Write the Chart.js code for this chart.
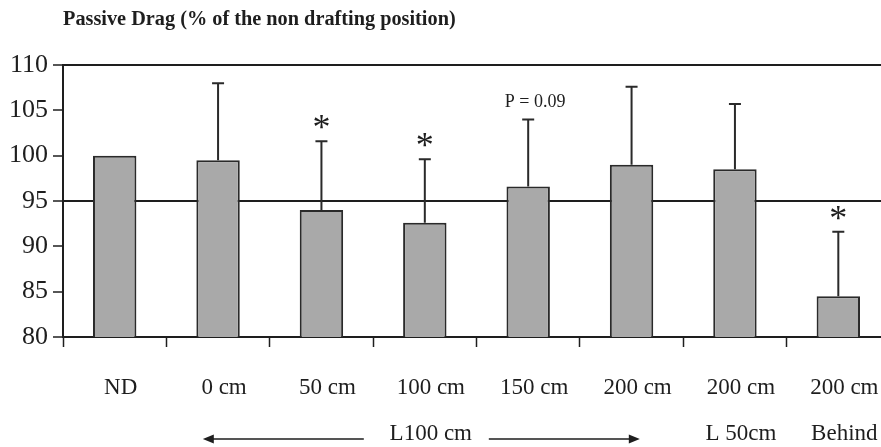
<!DOCTYPE html>
<html>
<head>
<meta charset="utf-8">
<script src="https://cdn.jsdelivr.net/npm/chart.js@4"></script>
<style>
    html, body { margin: 0; padding: 0; background: #fff; overflow: hidden; }
    #wrap { width: 891px; height: 447px; position: relative; }
</style>
</head>
<body>
<div id="wrap"><canvas id="dragChart"></canvas></div>
<script>
// Data
const categories = ["ND", "0 cm", "50 cm", "100 cm", "150 cm", "200 cm", "200 cm", "200 cm"];
const subLabels = ["", "", "", "L100 cm", "", "", "L 50cm", "Behind"];
const passiveDrag = [100, 99.5, 94.0, 92.6, 96.6, 99.0, 98.5, 84.5];
const sdUpper = [null, 8.5, 7.6, 7.0, 7.4, 8.6, 7.2, 7.1];
const marks = ["", "", "*", "*", "P = 0.09", "", "", "*"];
const yTicks = [80, 85, 90, 95, 100, 105, 110];
const refLines = [95, 110];
const titleText = "Passive Drag (% of the non drafting position)";

const serif = "'Liberation Serif', 'Times New Roman', serif";
const ink = "#1e1e1e";

// error bars, significance marks, title and the L100 arrows
const extras = {
    id: "extras",
    afterDatasetsDraw(chart) {
        const ctx = chart.ctx;
        const meta = chart.getDatasetMeta(0);
        const y = chart.scales.y;
        ctx.save();
        ctx.strokeStyle = "#2a2a2a";
        ctx.lineWidth = 2;
        meta.data.forEach((bar, i) => {
            if (sdUpper[i] == null) return;
            const top = y.getPixelForValue(passiveDrag[i] + sdUpper[i]);
            const base = y.getPixelForValue(passiveDrag[i]);
            ctx.beginPath();
            ctx.moveTo(bar.x, base);
            ctx.lineTo(bar.x, top);
            ctx.moveTo(bar.x - 6, top);
            ctx.lineTo(bar.x + 6, top);
            ctx.stroke();

            const m = marks[i];
            if (!m) return;
            ctx.fillStyle = ink;
            ctx.textAlign = "center";
            if (m === "*") {
                ctx.font = "36px " + serif;
                ctx.textBaseline = "alphabetic";
                const tm = ctx.measureText("*");
                const mid = (tm.actualBoundingBoxAscent - tm.actualBoundingBoxDescent) / 2;
                ctx.fillText("*", bar.x, top - 19 + mid);
            } else {
                ctx.font = "18px " + serif;
                ctx.textBaseline = "alphabetic";
                ctx.fillText(m, bar.x + 7, top - 12);
            }
        });
        ctx.restore();
    },
    afterDraw(chart) {
        const ctx = chart.ctx;
        const x = chart.scales.x;
        ctx.save();
        // title
        ctx.fillStyle = ink;
        ctx.font = "bold 20.3px " + serif;
        ctx.textAlign = "left";
        ctx.textBaseline = "alphabetic";
        ctx.fillText(titleText, chart.chartArea.left, 25);

        // arrows around "L100 cm"
        const c = x.getPixelForValue(3) + 6;
        const ay = 439;
        ctx.strokeStyle = ink;
        ctx.fillStyle = ink;
        ctx.lineWidth = 1.6;
        ctx.beginPath();
        ctx.moveTo(c - 67, ay);
        ctx.lineTo(c - 219, ay);
        ctx.moveTo(c + 58, ay);
        ctx.lineTo(c + 200, ay);
        ctx.stroke();
        ctx.beginPath();
        ctx.moveTo(c - 228, ay);
        ctx.lineTo(c - 217, ay - 4.5);
        ctx.lineTo(c - 217, ay + 4.5);
        ctx.closePath();
        ctx.moveTo(c + 209, ay);
        ctx.lineTo(c + 198, ay - 4.5);
        ctx.lineTo(c + 198, ay + 4.5);
        ctx.closePath();
        ctx.fill();
        ctx.restore();
    }
};

const ctx = document.getElementById("dragChart").getContext("2d");
const dragChart = new Chart(ctx, {
    type: "bar",
    data: {
        labels: categories.map((c, i) => [c, subLabels[i]]),
        datasets: [{
            label: "Passive Drag",
            data: passiveDrag,
            backgroundColor: "#a9a9a9",
            borderColor: "#2a2a2a",
            borderWidth: 2,
            borderSkipped: false,
            barPercentage: 0.42,
            categoryPercentage: 1
        }]
    },
    options: {
        responsive: true,
        maintainAspectRatio: false,
        animation: false,
        layout: { padding: { top: 65, right: 1, left: 0, bottom: 0 } },
        plugins: {
            legend: { display: false },
            title: { display: false },
            tooltip: { enabled: false }
        },
        scales: {
            x: {
                grid: {
                    offset: true,
                    drawOnChartArea: false,
                    drawTicks: true,
                    tickLength: 10,
                    tickColor: ink,
                    tickWidth: 1.5
                },
                border: { color: ink, width: 2 },
                ticks: {
                    color: ink,
                    font: { family: serif, size: 23, lineHeight: 2.04 },
                    padding: 17,
                    labelOffset: 6,
                    maxRotation: 0,
                    autoSkip: false
                },
                afterFit(scale) { scale.height = 110; }
            },
            y: {
                min: yTicks[0],
                max: yTicks[yTicks.length - 1],
                afterBuildTicks(scale) { scale.ticks = yTicks.map(v => ({ value: v })); },
                grid: {
                    color: c => refLines.includes(c.tick && c.tick.value) ? ink : "rgba(0,0,0,0)",
                    lineWidth: 2,
                    tickColor: ink,
                    tickWidth: 1.5,
                    tickLength: 10
                },
                border: { color: ink, width: 2 },
                ticks: {
                    color: ink,
                    font: { family: serif, size: 26 },
                    padding: 5
                },
                afterFit(scale) { scale.width = 63; }
            }
        }
    },
    plugins: [extras]
});
</script>
</body>
</html>
